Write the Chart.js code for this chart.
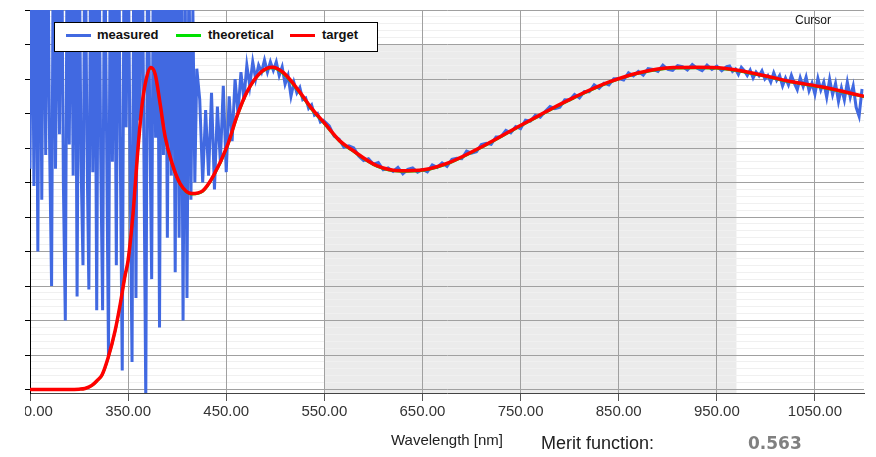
<!DOCTYPE html>
<html lang="en">
<head>
<meta charset="UTF-8">
<title>Measured vs target spectrum</title>
<script src="https://cdn.jsdelivr.net/npm/chart.js"></script>
<style>
  html, body { margin: 0; padding: 0; background: #fff; }
  #wrap { position: relative; width: 876px; height: 457px; font-family: "Liberation Sans", Arial, sans-serif; }
  #wrap canvas { position: absolute; left: 0; top: 0; }
  .legend { position: absolute; left: 54px; top: 22px; width: 322px; height: 28px; border: 1px solid #000; background: #fff; }
  .legend .sw { position: absolute; top: 11px; width: 25px; height: 3px; }
  .legend .lb { position: absolute; top: 4px; font-size: 13px; font-weight: bold; color: #111; line-height: 16px; white-space: nowrap; }
  .cursor { position: absolute; left: 795px; top: 13px; font-size: 12px; line-height: 14px; color: #111; }
  .merit { position: absolute; left: 541px; top: 433px; font-size: 18px; line-height: 20px; color: #222; }
  .meritval { position: absolute; left: 748px; top: 433px; font-family: "DejaVu Sans", sans-serif; font-weight: bold; font-size: 17px; line-height: 20px; color: #808080; }
</style>
</head>
<body>
<div id="wrap">
  <canvas id="spectrum" width="876" height="457"></canvas>
  <div class="legend">
    <span class="sw" style="left:11px;background:#4169e1"></span><span class="lb" style="left:42px">measured</span>
    <span class="sw" style="left:121px;background:#00e000"></span><span class="lb" style="left:153px">theoretical</span>
    <span class="sw" style="left:235px;background:#ff0000"></span><span class="lb" style="left:267px">target</span>
  </div>
  <div class="cursor">Cursor</div>
  <div class="merit">Merit function:</div>
  <div class="meritval">0.563</div>
</div>

<script>
// x tick labels (nm)
const xTicks = [250, 350, 450, 550, 650, 750, 850, 950, 1050];
const yTicks = [0, 10, 20, 30, 40, 50, 60, 70, 80, 90, 100, 110];

// shaded wavelength window
const shadeFrom = 550;
const shadeTo = 970;
const shadeTop = 100;

// target / theoretical curves
const curveNm = [250, 290, 300, 306, 313, 318, 323.5, 329.6, 336.7, 341.8, 346.9, 350, 355, 360, 364.3, 368.4, 373,
  377.6, 382.7, 387.8, 395, 403, 415, 426, 437, 451, 461, 471, 485, 497, 508, 525, 537, 550, 566, 577, 604, 628,
  651, 679, 712, 747, 770, 781, 804, 839, 872, 906, 931, 957, 992, 1025, 1059, 1100];
const targetT = [0, 0, 0.1, 0.3, 1.2, 2.5, 4.3, 9.2, 17, 24.5, 33.1, 37.5, 51, 69.7, 82.7, 89.9, 93.3,
  91.4, 82.7, 73.2, 65.4, 59.7, 56.8, 57.6, 62, 70.6, 79.3, 86.2, 91.9, 93.4, 91.9, 86.2, 81.5, 77.3, 72, 69.7, 64.8, 63.4,
  63.7, 66, 70.6, 76.1, 79.6, 81.3, 84.6, 89, 91.9, 93.3, 93.4, 93.1, 91.4, 89.3, 87.6, 85];
const theoreticalT = [0, 0, 0.1, 0.3, 1.1, 2.4, 4.2, 9.0, 16.8, 24.3, 32.9, 37.3, 50.8, 69.5, 82.5, 89.7, 93.1,
  91.1, 82.4, 72.9, 65.1, 59.5, 56.6, 57.4, 61.8, 70.3, 79.0, 86.0, 91.7, 93.2, 91.6, 85.9, 81.2, 77.0, 71.8, 69.5, 64.6, 63.2,
  63.5, 65.8, 70.4, 75.9, 79.4, 81.1, 84.4, 88.8, 91.7, 93.1, 93.2, 92.9, 91.2, 89.1, 87.4, 84.8];

// measured spectrum, on the spectrometer sample grid (start, step)
const measuredA = [64, 140, 59, 135, 40, 150, 55, 145, 68, 138, 70, 30, 150, 64, 132, 74, 146, 60, 20, 142,
  71, 136, 62, 150, 27, 140, 66, 36, 148, 72, 29, 143, 63, 135, 23, 146, 69, 23, 140, 75,
  10, 144, 66, 134, 36, 150, 70, 5.5, 142, 76, 136, 65, 8, 145, 26.5, 140, 78, 147, 72, -3,
  141, 80, 32, 146, 73, 135, 18, 144, 68, 140, 44, 134, 62, 138, 34, 145, 44, 132, 20, 125,
  26.5, 125, 55, 110, 60, 93];
const measuredB = [84, 60, 81, 62, 86, 58, 82, 66, 88, 63, 85, 72, 90, 80, 92, 84, 94, 88, 95, 90,
  94, 92, 95.5, 92, 95, 92.5, 95, 91, 93.5, 88.5, 91, 85, 89, 86, 87.5, 84, 84.5, 81.5, 82.5, 79.5,
  80, 77.5, 78];
const measuredC = [76.4, 73.4, 72.6, 70.2, 70.6, 70.0, 67.7, 66.4, 66.9, 65.3, 65.8, 63.7, 64.2, 63.2, 64.4, 62.5,
  63.8, 64.2, 63.0, 63.8, 63.1, 65.1, 64.4, 65.7, 64.7, 66.7, 67.0, 66.9, 69.1, 68.5, 68.9, 71.0, 71.4, 71.1,
  73.2, 73.3, 75.1, 74.4, 76.2, 75.6, 78.1, 77.8, 79.5, 78.9, 80.6, 82.0, 81.4, 81.8, 84.0, 83.9, 85.5, 84.5,
  86.4, 86.3, 88.3, 87.3, 88.8, 88.3, 90.1, 90.1, 89.7, 91.8, 90.9, 92.2, 91.1, 93.0, 92.8, 92.2, 94.0, 92.8,
  92.5, 93.9, 93.6, 92.6, 94.2, 93.1, 92.4, 94.0, 92.8, 93.7, 92.4, 93.6];
const measuredD = [93.8, 92.2, 92.9, 91.3, 93.4, 92.4, 91.0, 92.6, 90.3, 92.0, 90.9, 92.4, 90.0, 91.0, 89.1, 91.8,
  89.6, 91.0, 88.0, 90.3, 88.3, 91.1, 88.8, 86.9, 90.4, 87.8, 90.6, 86.6, 88.8, 85.6, 90.2, 86.8, 89.1, 84.7,
  89.9, 85.5, 88.7, 83.5, 87.4, 83.9, 89.1, 84.7, 88.0, 81.8, 79.2, 87.1];

function pairs(xs, ys) {
  return xs.map((x, i) => ({ x: x, y: ys[i] }));
}
function samples(start, step, vals) {
  return vals.map((v, i) => ({ x: start + i * step, y: v }));
}

const measured = [].concat(
  samples(250, 2, measuredA),
  samples(423, 3, measuredB),
  samples(555, 5, measuredC),
  samples(963, 3, measuredD)
);

const shadePlugin = {
  id: 'shade',
  beforeDraw(chart) {
    const { ctx, chartArea, scales } = chart;
    const l = scales.x.getPixelForValue(shadeFrom);
    const r = scales.x.getPixelForValue(shadeTo);
    const t = scales.y.getPixelForValue(shadeTop);
    ctx.save();
    ctx.fillStyle = '#ebebeb';
    ctx.fillRect(l, t, r - l, chartArea.bottom - t);
    ctx.restore();
  }
};

// the first tick label is cut by the panel edge
const edgePlugin = {
  id: 'edge',
  afterDraw(chart) {
    const { ctx, chartArea } = chart;
    ctx.save();
    ctx.fillStyle = '#fff';
    ctx.fillRect(0, chartArea.bottom + 9, 25, 24);
    ctx.restore();
  }
};

const ctx = document.getElementById('spectrum').getContext('2d');
Chart.defaults.font.family = '"Liberation Sans", Arial, sans-serif';

const chart = new Chart(ctx, {
  type: 'line',
  data: {
    datasets: [
      { label: 'target', data: pairs(curveNm, targetT), borderColor: '#ff0000', borderWidth: 3.5,
        pointRadius: 0, cubicInterpolationMode: 'monotone', order: 1 },
      { label: 'theoretical', data: pairs(curveNm, theoreticalT), borderColor: '#00e000', borderWidth: 2.5,
        pointRadius: 0, cubicInterpolationMode: 'monotone', order: 2 },
      { label: 'measured', data: measured, borderColor: '#4169e1', borderWidth: 3,
        pointRadius: 0, tension: 0, order: 3, clip: 0 }
    ]
  },
  options: {
    responsive: false,
    animation: false,
    events: [],
    layout: { padding: { left: 0, top: 10, right: 12, bottom: 6 } },
    plugins: { legend: { display: false }, tooltip: { enabled: false } },
    scales: {
      yMinor: {
        position: 'left', min: -1, max: 110,
        ticks: { display: false, stepSize: 2 },
        grid: { color: '#f0f0f0', drawTicks: false, z: -1 },
        border: { display: false },
        afterFit: s => { s.width = 0; }
      },
      x: {
        type: 'linear', min: 250, max: 1100,
        afterBuildTicks: s => { s.ticks = xTicks.map(v => ({ value: v })); },
        ticks: { callback: v => v.toFixed(2), color: '#333', font: { size: 15 }, padding: 2, maxRotation: 0, autoSkip: false },
        grid: { color: '#a0a0a0', tickColor: '#555', tickLength: 8 },
        border: { color: '#444' },
        title: { display: true, text: 'Wavelength [nm]', color: '#222', font: { size: 15 }, padding: { top: 9, bottom: 1 } }
      },
      y: {
        position: 'left', min: -1, max: 110,
        afterBuildTicks: s => { s.ticks = yTicks.map(v => ({ value: v })); },
        ticks: { display: false },
        grid: { color: '#a0a0a0', tickColor: '#000', tickLength: 5 },
        border: { color: '#000' },
        afterFit: s => { s.width = 30; }
      }
    }
  },
  plugins: [shadePlugin, edgePlugin]
});
</script>
</body>
</html>
